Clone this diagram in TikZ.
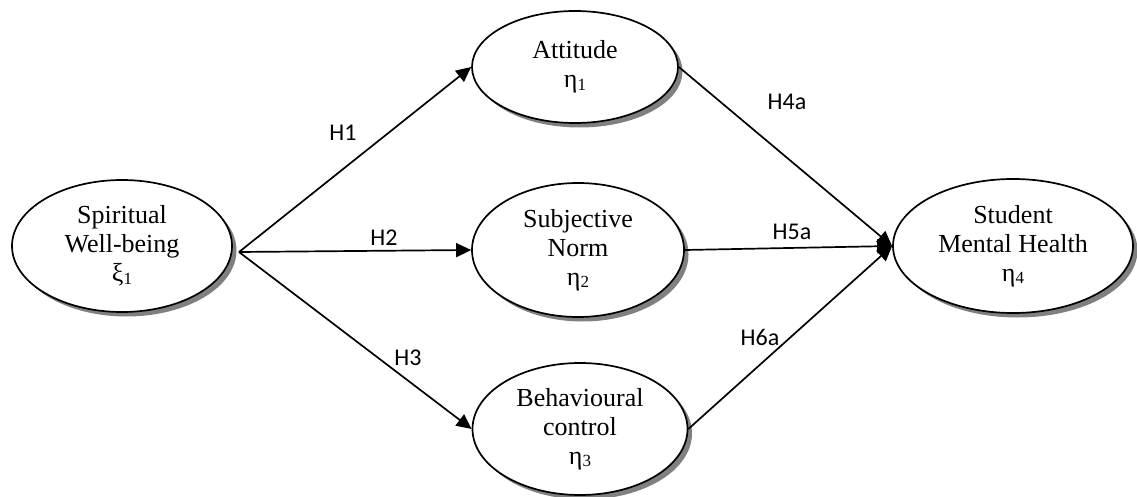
\documentclass[tikz,border=0pt]{standalone}
\usepackage{fontspec}
\setmainfont{Liberation Serif}
\newfontfamily\lblfont{Carlito}
\usetikzlibrary{shapes.geometric,arrows.meta,shadows}
\newcommand{\sbs}[1]{\raisebox{-2.5pt}{\fontsize{17}{17}\selectfont #1}}
\tikzset{
  latent/.style={ellipse, draw=black, line width=1.7pt, fill=white, inner sep=0pt,
    align=center, font=\fontsize{26}{29}\selectfont,
    drop shadow={shadow xshift=4.5pt, shadow yshift=-4.5pt, fill=black!50, opacity=1}},
  path/.style={line width=1.7pt, -{Triangle[length=15pt,width=14pt]}},
  hlab/.style={font=\lblfont\fontsize{24}{24}\selectfont, anchor=base, inner sep=0pt}
}
\begin{document}
\begin{tikzpicture}[x=1pt,y=-1pt]
\useasboundingbox (0,0) rectangle (1137,497);
\node[latent, minimum width=220pt, minimum height=132pt] (sw) at (122,246) {Spiritual\\Well-being\\ξ\sbs{1}};
\node[latent, minimum width=206pt, minimum height=112pt] (att) at (575,67) {Attitude\\η\sbs{1}};
\node[latent, minimum width=212pt, minimum height=134pt] (sn) at (578,250) {Subjective\\Norm\\η\sbs{2}};
\node[latent, minimum width=215pt, minimum height=132pt] (bc) at (580,429) {Behavioural\\control\\η\sbs{3}};
\node[latent, minimum width=240pt, minimum height=134pt] (smh) at (1013,246) {Student\\Mental Health\\η\sbs{4}};
\coordinate (src) at (239,252);
\draw[path] (src) -- (att.west);
\draw[path] (src) -- (sn.west);
\draw[path] (src) -- (bc.west);
\draw[path] (att.east) -- (smh.west);
\draw[path] (sn.east) -- (smh.west);
\draw[path] (bc.east) -- (smh.west);
\node[hlab] (h1) at (343,141) {H1};
\node[hlab] (h2) at (384,245) {H2};
\node[hlab] (h3) at (408,365) {H3};
\node[hlab] (h4) at (787,110) {H4a};
\node[hlab] (h5) at (792,239) {H5a};
\node[hlab] (h6) at (760,345) {H6a};
\end{tikzpicture}
\end{document}
